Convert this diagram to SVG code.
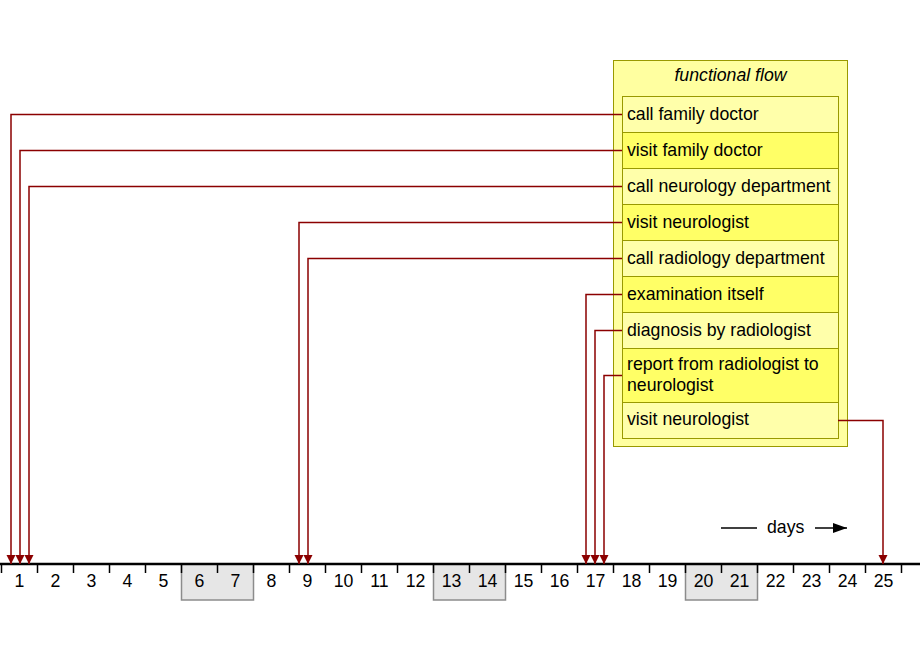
<svg xmlns="http://www.w3.org/2000/svg" width="920" height="660" viewBox="0 0 920 660">
<defs>
<style>
.t{font-family:"Liberation Sans",Arial,sans-serif;font-size:17.7px;fill:#000}
.d{font-family:"Liberation Sans",Arial,sans-serif;font-size:17.7px;fill:#000;text-anchor:middle}
.rl{fill:#ffffaa;stroke:#999900;stroke-width:1}
.rd{fill:#ffff66;stroke:#999900;stroke-width:1}
.c{fill:none;stroke:#8b0000;stroke-width:1.5;marker-end:url(#ah)}
.tk{stroke:#000;stroke-width:1.5}
.we{fill:#e6e6e6;stroke:#8c8c8c;stroke-width:1.5}
</style>
<marker id="ah" markerUnits="userSpaceOnUse" markerWidth="10" markerHeight="10" refX="9" refY="4.5" orient="auto" viewBox="0 0 10 10">
<path d="M0,0 L9,4.5 L0,9 Z" fill="#8b0000"/>
</marker>
<marker id="ak" markerUnits="userSpaceOnUse" markerWidth="14" markerHeight="10" refX="14" refY="5" orient="auto" viewBox="0 0 14 10">
<path d="M0,0 L14,5 L0,10 Z" fill="#000"/>
</marker>
</defs>
<rect width="920" height="660" fill="#fff"/>
<g id="timeline">
<rect class="we" x="181.5" y="564" width="72" height="36"/>
<rect class="we" x="433.5" y="564" width="72" height="36"/>
<rect class="we" x="685.5" y="564" width="72" height="36"/>
<line x1="0" y1="564" x2="920" y2="564" stroke="#000" stroke-width="2.5"/>
<g class="tk">
<line x1="1.5" y1="564" x2="1.5" y2="573"/><line x1="37.5" y1="564" x2="37.5" y2="573"/><line x1="73.5" y1="564" x2="73.5" y2="573"/><line x1="109.5" y1="564" x2="109.5" y2="573"/><line x1="145.5" y1="564" x2="145.5" y2="573"/><line x1="181.5" y1="564" x2="181.5" y2="573"/><line x1="217.5" y1="564" x2="217.5" y2="573"/><line x1="253.5" y1="564" x2="253.5" y2="573"/><line x1="289.5" y1="564" x2="289.5" y2="573"/><line x1="325.5" y1="564" x2="325.5" y2="573"/><line x1="361.5" y1="564" x2="361.5" y2="573"/><line x1="397.5" y1="564" x2="397.5" y2="573"/><line x1="433.5" y1="564" x2="433.5" y2="573"/><line x1="469.5" y1="564" x2="469.5" y2="573"/><line x1="505.5" y1="564" x2="505.5" y2="573"/><line x1="541.5" y1="564" x2="541.5" y2="573"/><line x1="577.5" y1="564" x2="577.5" y2="573"/><line x1="613.5" y1="564" x2="613.5" y2="573"/><line x1="649.5" y1="564" x2="649.5" y2="573"/><line x1="685.5" y1="564" x2="685.5" y2="573"/><line x1="721.5" y1="564" x2="721.5" y2="573"/><line x1="757.5" y1="564" x2="757.5" y2="573"/><line x1="793.5" y1="564" x2="793.5" y2="573"/><line x1="829.5" y1="564" x2="829.5" y2="573"/><line x1="865.5" y1="564" x2="865.5" y2="573"/><line x1="901.5" y1="564" x2="901.5" y2="573"/>
</g>
<g>
<text class="d" x="19.5" y="587">1</text><text class="d" x="55.5" y="587">2</text><text class="d" x="91.5" y="587">3</text><text class="d" x="127.5" y="587">4</text><text class="d" x="163.5" y="587">5</text><text class="d" x="199.5" y="587">6</text><text class="d" x="235.5" y="587">7</text><text class="d" x="271.5" y="587">8</text><text class="d" x="307.5" y="587">9</text><text class="d" x="343.5" y="587">10</text><text class="d" x="379.5" y="587">11</text><text class="d" x="415.5" y="587">12</text><text class="d" x="451.5" y="587">13</text><text class="d" x="487.5" y="587">14</text><text class="d" x="523.5" y="587">15</text><text class="d" x="559.5" y="587">16</text><text class="d" x="595.5" y="587">17</text><text class="d" x="631.5" y="587">18</text><text class="d" x="667.5" y="587">19</text><text class="d" x="703.5" y="587">20</text><text class="d" x="739.5" y="587">21</text><text class="d" x="775.5" y="587">22</text><text class="d" x="811.5" y="587">23</text><text class="d" x="847.5" y="587">24</text><text class="d" x="883.5" y="587">25</text>
</g>
</g>
<g id="days-label">
<line x1="721" y1="528" x2="757" y2="528" stroke="#000" stroke-width="1.5"/>
<text class="t" x="767" y="533">days</text>
<line x1="815" y1="528" x2="847" y2="528" stroke="#000" stroke-width="1.5" marker-end="url(#ak)"/>
</g>
<g id="functional-flow">
<rect x="613.5" y="60.5" width="234" height="386" fill="#ffffa0" stroke="#999900" stroke-width="1"/>
<text x="730.5" y="81" style="font-family:'Liberation Sans',Arial,sans-serif;font-size:17.7px;font-style:italic;text-anchor:middle">functional flow</text>
<g id="n1"><rect class="rl" x="622.5" y="96.5" width="216" height="36"/><text class="t" x="627" y="120">call family doctor</text></g>
<g id="n2"><rect class="rd" x="622.5" y="132.5" width="216" height="36"/><text class="t" x="627" y="156">visit family doctor</text></g>
<g id="n3"><rect class="rl" x="622.5" y="168.5" width="216" height="36"/><text class="t" x="627" y="192">call neurology department</text></g>
<g id="n4"><rect class="rd" x="622.5" y="204.5" width="216" height="36"/><text class="t" x="627" y="228">visit neurologist</text></g>
<g id="n5"><rect class="rl" x="622.5" y="240.5" width="216" height="36"/><text class="t" x="627" y="264">call radiology department</text></g>
<g id="n6"><rect class="rd" x="622.5" y="276.5" width="216" height="36"/><text class="t" x="627" y="300">examination itself</text></g>
<g id="n7"><rect class="rl" x="622.5" y="312.5" width="216" height="36"/><text class="t" x="627" y="336">diagnosis by radiologist</text></g>
<g id="n8"><rect class="rd" x="622.5" y="348.5" width="216" height="54"/><text class="t" x="627" y="370">report from radiologist to</text><text class="t" x="627" y="391">neurologist</text></g>
<g id="n9"><rect class="rl" x="622.5" y="402.5" width="216" height="36"/><text class="t" x="627" y="425">visit neurologist</text></g>
</g>
<g id="connectors">
<path class="c" d="M622,114.5 H11 V564"/>
<path class="c" d="M622,150.5 H20 V564"/>
<path class="c" d="M622,186.5 H29 V564"/>
<path class="c" d="M622,222.5 H299 V564"/>
<path class="c" d="M622,258.5 H308 V564"/>
<path class="c" d="M622,294.5 H586 V564"/>
<path class="c" d="M622,330.5 H595 V564"/>
<path class="c" d="M622,375.5 H604 V564"/>
<path class="c" d="M838,420.5 H883 V564"/>
</g>
</svg>
